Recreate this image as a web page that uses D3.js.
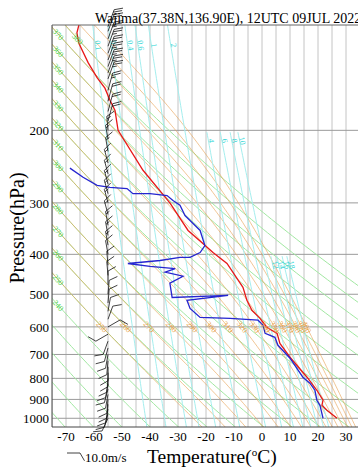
<!DOCTYPE html>
<html><head><meta charset="utf-8">
<script src="https://cdn.jsdelivr.net/npm/d3@7"></script>
<style>body{margin:0;background:#fff}svg{display:block}text{font-family:"Liberation Serif","Times New Roman",serif}</style>
</head><body><svg id="c" width="358" height="470"></svg>
<script>
// ---- data ----
const tempTicks=[-70,-60,-50,-40,-30,-20,-10,0,10,20,30];
const pressTicks=[1000,900,800,700,600,500,400,300,200];
const isoTherms=[-75,-70,-65,-60,-55,-50,-45,-40,-35,-30,-25,-20,-15,-10,-5,0,5,10,15,20,25,30,35,40];
const dryThetas=[200,210,220,230,240,250,260,270,280,290,300,310,320,330,340,350,360,370,380];
const dryLabels=[240,250,260,270,280,290,300,310,320,330,340,350,360,370,380];
const moistThetaE=[250,260,270,280,290,300,310,320,330,340,350,360,370,380,390,400];
const mixRatio1=[0.1,0.2,0.4,0.6,1,2];
const mixRatio2=[4,6,8,10];
const mixRatio3=[12,14,16,18];
const tempP=[111,116,123,137,149,158,169,179,200,250,300,350,380,396,421,481,517,547,572,602,622,658,711,795,855,904,930,956,1000];
const tempT=[-65.4,-66.1,-65.4,-62.1,-58.9,-56.1,-54.3,-52.5,-51.4,-42.5,-32.9,-26.4,-20.4,-17.5,-12.5,-6.8,-5.4,-3.6,-0.7,1.8,5.4,6.4,10.0,16.1,19.6,21.8,21.4,23.2,26.8];
const dewP=[247,260,272,275,277,285,285,288,296,304,322,331,350,381,396,407,407,414,421,428,433,442,452,470,509,503,517,541,569,572,578,595,622,636,665,715,795,822,855,904,930,1000];
const dewT=[-68.6,-63.9,-58.9,-54.3,-48.2,-46.1,-40,-33.9,-31.8,-29.3,-27.5,-25.7,-22.1,-20.4,-22.1,-25.7,-29.3,-36.4,-47.9,-40,-31,-34.6,-28.2,-32.9,-32.1,-12.1,-26.8,-25.7,-22.1,-11.4,-1.4,0.4,1.1,4.6,5.7,10,14.6,17.1,18.9,19.6,20.7,21.8];
const windP=[1000,975,950,925,900,875,850,825,800,775,750,725,700,675,650,625,600,575,550,525,500,475,450,425,400,380,360,340,320,300,285,270,255,240,225,210,200,190,180,170,160,150,145,140,135,130,125,120,115,112];
const windDir=[205,195,190,185,185,190,195,190,185,180,180,185,190,195,200,240,60,20,10,5,5,0,355,355,350,350,350,350,345,345,345,345,345,345,350,350,355,15,15,15,15,20,20,20,20,20,20,20,20,20];
const windSpd=[8,10,12,12,10,10,10,8,8,8,10,10,12,10,8,10,12,8,8,8,10,10,12,12,12,14,14,15,15,15,15,15,15,15,15,15,15,20,20,20,25,25,25,25,25,25,25,25,25,25];

// ---- scales ----
const svg=d3.select('#c');
const X0=52,X1=374,Y0=25,Y1=427;
const x=d3.scaleLinear().domain([-75,40]).range([X0,X1]);
const y=d3.scaleLog().domain([1050,111]).range([Y1,Y0]);
const pSamp=d3.range(0,121).map(i=>1050*Math.pow(111/1050,i/120));
svg.append('defs').append('clipPath').attr('id','pc').append('rect').attr('x',X0).attr('y',Y0).attr('width',X1-X0).attr('height',Y1-Y0);
const g=svg.append('g').attr('clip-path','url(#pc)');
const line=d3.line().x(d=>x(d[1])).y(d=>y(d[0]));

// thermodynamics
function es(Tc){return 6.112*Math.exp(17.67*Tc/(Tc+243.5));}
function thetaE(Tk,p){const e=es(Tk-273.15);if(p-e<p*0.3)return 1e9;const r=0.622*e/(p-e),rg=r*1000;const th=Tk*Math.pow(1000/p,0.2854*(1-0.28*r));return th*Math.exp((3.376/Tk-0.00254)*rg*(1+0.00081*rg));}
function moistT(te,p){let lo=120,hi=360;for(let i=0;i<50;i++){const m=(lo+hi)/2;if(thetaE(m,p)>te)hi=m;else lo=m;}return (lo+hi)/2-273.15;}
function dryT(th,p){return th*Math.pow(p/1000,0.2857)-273.15;}
function mixT(w,p){const e=w*p/(622+w);const L=Math.log(e/6.112);return 243.5*L/(17.67-L);}

// grid
g.selectAll('.vg').data(isoTherms).join('line').attr('x1',d=>x(d)).attr('x2',d=>x(d)).attr('y1',Y0).attr('y2',Y1).attr('stroke','#c4c4c4').attr('stroke-width',1);
g.selectAll('.hg').data(pressTicks).join('line').attr('x1',X0).attr('x2',X1).attr('y1',d=>y(d)).attr('y2',d=>y(d)).attr('stroke','#9a9a9a').attr('stroke-width',1);

// dry adiabats
g.selectAll('.dry').data(dryThetas).join('path').attr('fill','none').attr('stroke','#a2e8a2').attr('stroke-width',1)
 .attr('d',th=>line(pSamp.map(p=>[p,dryT(th,p)])));
// moist
g.selectAll('.moist').data(moistThetaE).join('path').attr('fill','none').attr('stroke','#e8a050').attr('stroke-opacity',0.6).attr('stroke-width',1)
 .attr('d',te=>line(pSamp.map(p=>[p,moistT(te,p)])));
// mixing ratio
function mixPath(w,pt){return line(pSamp.filter(p=>p>=pt).map(p=>[p,mixT(w,p)]));}
const mixGroups=[[mixRatio1,111],[mixRatio2,200],[mixRatio3,400]];
mixGroups.forEach(([arr,pt])=>{
 g.selectAll(null).data(arr).join('path').attr('fill','none').attr('stroke','#a4eeee').attr('stroke-width',1).attr('d',w=>mixPath(w,pt));
});

function angleAt(f,p){const p2=p*1.02;const a=[x(f(p)),y(p)],b=[x(f(p2)),y(p2)];return Math.atan2(b[1]-a[1],b[0]-a[0])*180/Math.PI;}
const lab=svg.append('g').attr('clip-path','url(#pc)').style('font-size','8px');
// dry labels at left/top edge
dryLabels.forEach(th=>{
 const pe=1000*Math.pow(198.15/th,3.5);
 let p;
 if(pe>=111){p=pe*1.04;}else{p=120;}
 const xx=x(dryT(th,p)), yy=y(p);
 const ang=angleAt(q=>dryT(th,q),p);
 lab.append('text').attr('transform',`translate(${xx},${yy}) rotate(${ang})`).attr('text-anchor','middle').attr('dy','0.35em').attr('fill','#44d044').text(th);
});
// moist labels at 600
moistThetaE.forEach(te=>{
 const p=600;const xx=x(moistT(te,p)),yy=y(p);
 const ang=angleAt(q=>moistT(te,q),p);
 lab.append('text').attr('transform',`translate(${xx},${yy}) rotate(${ang})`).attr('text-anchor','middle').attr('dy','0.35em').attr('fill','#e8a040').text(te);
});
// mixing labels near top of each line
mixGroups.forEach(([arr,pt])=>{
 arr.forEach(w=>{
  const p=pt*(pt<150?1.12:1.06);const xx=x(mixT(w,p)),yy=y(p);
  const ang=angleAt(q=>mixT(w,q),p);
  lab.append('text').attr('transform',`translate(${xx+3},${yy}) rotate(${ang})`).attr('text-anchor','middle').attr('dy','0.35em').attr('fill','#33d6d6').text(w);
 });
});

// profiles
g.append('path').attr('fill','none').attr('stroke','#e81818').attr('stroke-width',1.3).attr('d',line(tempP.map((p,i)=>[p,tempT[i]])));
g.append('path').attr('fill','none').attr('stroke','#2525d0').attr('stroke-width',1.3).attr('d',line(dewP.map((p,i)=>[p,dewT[i]])));

// border
svg.append('line').attr('x1',X0).attr('x2',X0).attr('y1',Y0).attr('y2',Y1).attr('stroke','#444');
svg.append('line').attr('x1',X0).attr('x2',X1).attr('y1',Y1).attr('y2',Y1).attr('stroke','#444');
svg.append('line').attr('x1',X0).attr('x2',X1).attr('y1',Y0).attr('y2',Y0).attr('stroke','#666');

// wind barbs
function barb(gr,bx,by,dir,spd,L){
 const a=dir*Math.PI/180;const ux=Math.sin(a),uy=-Math.cos(a);
 const tx=bx+ux*L,ty=by+uy*L;
 let d=`M${bx},${by}L${tx},${ty}`;
 const fa=(dir+60)*Math.PI/180,fx=Math.sin(fa),fy=-Math.cos(fa);
 let s=spd,pos=0;const FL=9,sp=2.6;
 while(s>=47.5){const px=tx-ux*pos,py=ty-uy*pos,qx=tx-ux*(pos+4),qy=ty-uy*(pos+4);d+=`M${px},${py}L${px+fx*FL},${py+fy*FL}L${qx},${qy}`;pos+=5;s-=50;}
 while(s>=7.5){const px=tx-ux*pos,py=ty-uy*pos;d+=`M${px},${py}L${px+fx*FL},${py+fy*FL}`;pos+=sp;s-=10;}
 if(s>=2.5){if(pos===0)pos=sp;const px=tx-ux*pos,py=ty-uy*pos;d+=`M${px},${py}L${px+fx*FL/2},${py+fy*FL/2}`;}
 gr.append('path').attr('d',d).attr('fill','none').attr('stroke','#111').attr('stroke-width',0.8);
}
const bg=svg.append('g');
windP.forEach((p,i)=>barb(bg,x(-55),y(p),windDir[i],windSpd[i],p<200?18:14));
// legend barb
barb(svg.append('g'),67,453,90,10,13);
svg.append('text').attr('x',85).attr('y',462).style('font-size','13px').text('10.0m/s');

// axes text
svg.selectAll('.xt').data(tempTicks).join('text').attr('x',d=>x(d)).attr('y',441).attr('text-anchor','middle').style('font-size','13px').text(d=>d);
svg.selectAll('.yt').data(pressTicks).join('text').attr('x',49).attr('y',d=>y(d)+5).attr('text-anchor','end').style('font-size','13px').text(d=>d);
svg.append('text').attr('transform','translate(24,228) rotate(-90)').attr('text-anchor','middle').style('font-size','20px').text('Pressure(hPa)');
const xl=svg.append('text').attr('x',147).attr('y',463).style('font-size','19.5px');
xl.append('tspan').text('Temperature(');xl.append('tspan').attr('dy','-7').style('font-size','11px').text('o');xl.append('tspan').attr('dy','7').text('C)');
svg.append('text').attr('x',95).attr('y',23).style('font-size','14px').text('Wajima(37.38N,136.90E), 12UTC 09JUL 2022');
</script></body></html>
